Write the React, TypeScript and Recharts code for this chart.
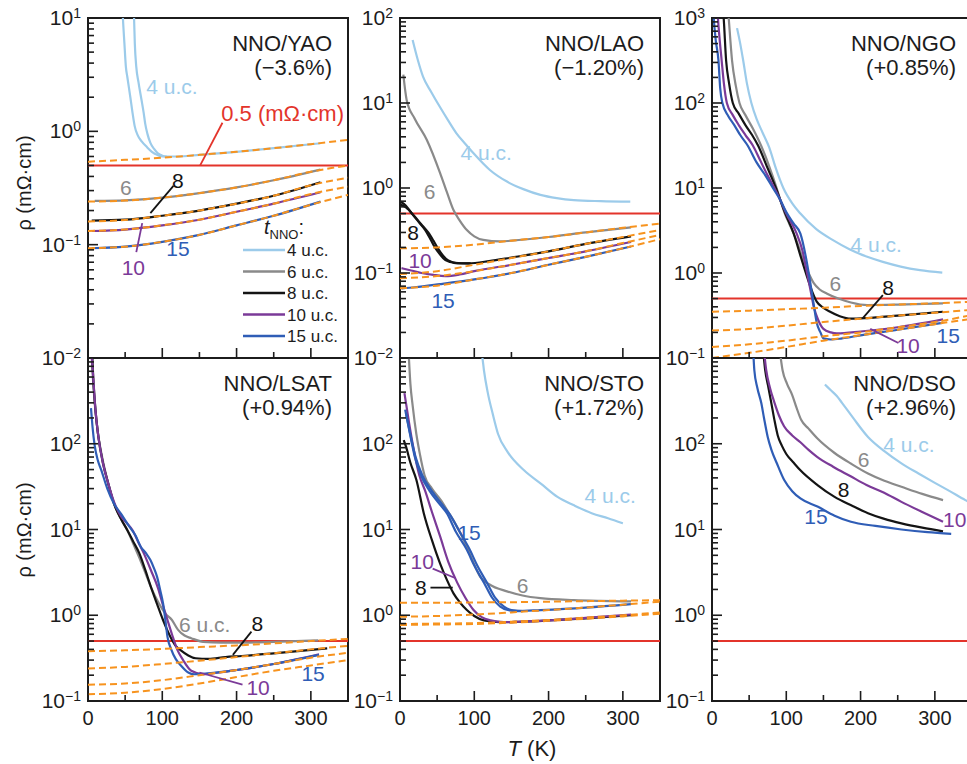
import React from "react";
import {
  LineChart,
  Line,
  XAxis,
  YAxis,
  ReferenceLine,
  ReferenceDot,
  ReferenceArea,
} from "recharts";

const FONT = "'Liberation Sans', Arial, Helvetica, sans-serif";
const INK = "#1c1c1c";

const C4 = "#9ccbea";
const C6 = "#8a8a8a";
const C8 = "#141414";
const C10 = "#7b3a98";
const C15 = "#2f5db6";
const FIT = "#f7931e";
const RED = "#e3342b";

type P = [number, number];

// axes
const T_DOMAIN: [number, number] = [0, 350];
const X_TICKS = [0, 50, 100, 150, 200, 250, 300];
const X_LABELS = [0, 100, 200, 300];
const MINOR = [2, 3, 4, 5, 6, 7, 8, 9];
const YAO_DECADES = [0.01, 0.1, 1, 10];
const LAO_DECADES = [0.01, 0.1, 1, 10, 100];
const NGO_DECADES = [0.1, 1, 10, 100, 1000];
const LOWER_DECADES = [0.1, 1, 10, 100, 1000];
const RHO_CRIT = 0.5;

// T grid for the dashed fits
const FIT_T = [0, 50, 100, 150, 200, 250, 300, 350];

// ---- NNO/YAO ----
const YAO_4A: P[] = [[46, 14], [47, 10], [49, 6], [51, 3.7], [53, 3.0], [57, 2.0], [60, 1.45], [63, 1.1], [67, 0.92], [72, 0.82], [79, 0.73], [86, 0.66], [93, 0.62], [100, 0.6], [120, 0.6], [150, 0.62], [200, 0.66], [250, 0.71], [313, 0.785]];
const YAO_4B: P[] = [[61, 14], [62, 10], [63, 6], [65, 3.7], [68, 2.7], [72, 1.9], [75, 1.45], [77, 1.17], [80, 0.95], [84, 0.79], [89, 0.7], [94, 0.64], [100, 0.61], [106, 0.6]];
const YAO_6: P[] = [[9, 0.243], [50, 0.246], [100, 0.26], [150, 0.285], [200, 0.32], [250, 0.37], [313, 0.46]];
const YAO_8: P[] = [[5, 0.163], [50, 0.166], [100, 0.18], [150, 0.2], [200, 0.23], [250, 0.27], [313, 0.355]];
const YAO_10: P[] = [[5, 0.132], [50, 0.136], [100, 0.148], [150, 0.166], [200, 0.195], [250, 0.23], [313, 0.29]];
const YAO_15: P[] = [[5, 0.093], [50, 0.096], [100, 0.106], [150, 0.122], [200, 0.148], [250, 0.18], [313, 0.24]];
const YAO_F4 = [0.54, 0.56, 0.585, 0.62, 0.66, 0.71, 0.77, 0.84];
const YAO_F6 = [0.24, 0.245, 0.26, 0.285, 0.32, 0.37, 0.44, 0.5];
const YAO_F8 = [0.16, 0.165, 0.18, 0.2, 0.23, 0.27, 0.335, 0.39];
const YAO_F10 = [0.132, 0.136, 0.148, 0.166, 0.195, 0.23, 0.28, 0.325];
const YAO_F15 = [0.093, 0.096, 0.106, 0.122, 0.148, 0.18, 0.225, 0.275];

// ---- NNO/LAO ----
const LAO_4: P[] = [[17, 55], [24, 32], [31, 20.4], [42, 13.5], [54, 8.9], [65, 6.2], [76, 4.4], [88, 3.3], [99, 2.56], [121, 1.63], [144, 1.19], [166, 0.97], [189, 0.83], [211, 0.76], [234, 0.72], [270, 0.7], [310, 0.69]];
const LAO_6: P[] = [[4.5, 21.5], [9, 10.8], [20, 6.5], [36, 3.7], [54, 1.5], [63, 0.9], [72, 0.55], [80, 0.42], [90, 0.32], [100, 0.27], [112, 0.245], [135, 0.235], [150, 0.24], [200, 0.265], [250, 0.3], [311, 0.345]];
const LAO_8A: P[] = [[1, 0.69], [8, 0.62], [16, 0.5], [25, 0.4], [34, 0.32], [41, 0.25], [47, 0.2], [54, 0.165], [61, 0.142], [74, 0.132], [92, 0.13], [120, 0.138], [150, 0.152], [200, 0.18], [250, 0.22], [311, 0.27]];
const LAO_8B: P[] = [[1, 0.64], [8, 0.59], [18, 0.48], [28, 0.38], [38, 0.3], [45, 0.24], [51, 0.195], [58, 0.16], [65, 0.14], [78, 0.13], [95, 0.13]];
const LAO_10: P[] = [[2, 0.114], [15, 0.107], [29, 0.1], [45, 0.095], [61, 0.092], [80, 0.096], [100, 0.105], [150, 0.125], [200, 0.15], [250, 0.18], [311, 0.232]];
const LAO_15: P[] = [[2, 0.066], [20, 0.068], [54, 0.074], [100, 0.084], [150, 0.1], [200, 0.125], [250, 0.155], [311, 0.205]];
const LAO_F6 = [0.195, 0.2, 0.215, 0.24, 0.265, 0.3, 0.34, 0.38];
const LAO_F8 = [0.097, 0.105, 0.125, 0.15, 0.18, 0.22, 0.265, 0.32];
const LAO_F10 = [0.087, 0.092, 0.105, 0.125, 0.15, 0.18, 0.225, 0.28];
const LAO_F15 = [0.066, 0.071, 0.084, 0.1, 0.125, 0.155, 0.195, 0.25];

// ---- NNO/NGO ----
const NGO_4: P[] = [[33.7, 760], [38, 500], [42, 316], [47, 170], [53, 100], [60, 65], [68, 45], [77, 30], [86, 17], [96, 10], [108, 6.6], [119, 5], [140, 3.3], [164, 2.4], [185, 1.9], [209, 1.55], [230, 1.35], [254, 1.19], [280, 1.08], [310, 1.01]];
const NGO_6: P[] = [[21, 1500], [22.5, 1000], [27, 316], [32, 160], [37, 100], [45, 72], [55, 50], [66, 31.6], [77, 18], [87, 10], [92, 7.2], [98, 5], [104, 3.8], [110, 2.9], [117, 2], [123, 1.4], [130, 1.0], [137, 0.76], [145, 0.64], [155, 0.57], [170, 0.5], [187, 0.45], [209, 0.42], [250, 0.425], [311, 0.44]];
const NGO_8: P[] = [[14, 1500], [15.7, 1000], [19, 316], [23, 170], [28, 100], [36, 75], [45, 55], [54, 42], [62, 31.6], [75, 17], [86, 10], [92, 7.2], [98, 5.2], [110, 2.9], [120, 1.5], [128, 0.9], [135, 0.6], [141, 0.46], [150, 0.39], [159, 0.35], [172, 0.31], [187, 0.29], [209, 0.295], [250, 0.315], [311, 0.35]];
const NGO_10: P[] = [[7, 1500], [8, 1000], [10, 600], [13, 316], [16, 170], [20, 100], [28, 72], [36, 55], [45, 42], [55, 31.6], [65, 21], [75, 14], [84, 10], [92, 7.2], [100, 5], [114, 2.9], [122, 1.8], [128, 1.0], [133, 0.6], [137, 0.4], [143, 0.28], [150, 0.22], [160, 0.2], [168, 0.195], [200, 0.205], [250, 0.23], [311, 0.285]];
const NGO_15: P[] = [[1, 1500], [2.3, 1000], [5, 550], [8.7, 316], [11, 150], [14, 100], [22, 70], [30, 55], [38, 42], [48, 31.6], [60, 20], [72, 14], [82, 10], [92, 7.2], [100, 5.2], [110, 3.8], [119, 2.9], [126, 1.6], [132, 0.8], [137, 0.42], [141, 0.26], [146, 0.2], [150, 0.17], [160, 0.165], [175, 0.17], [200, 0.185], [250, 0.215], [311, 0.26]];
const NGO_F6 = [0.35, 0.36, 0.375, 0.39, 0.41, 0.425, 0.44, 0.46];
const NGO_F8 = [0.21, 0.22, 0.24, 0.265, 0.29, 0.315, 0.34, 0.37];
const NGO_F10 = [0.135, 0.145, 0.16, 0.18, 0.2, 0.23, 0.265, 0.32];
const NGO_F15 = [0.1, 0.115, 0.135, 0.16, 0.185, 0.215, 0.25, 0.29];

// ---- NNO/LSAT ----
const LSAT_6: P[] = [[4, 1500], [6, 700], [9, 300], [13, 140], [19, 70], [27, 35], [35, 20], [45, 13], [53, 9.8], [62, 6.5], [70, 4.5], [78, 3.0], [85, 2.1], [95, 1.4], [104, 1.05], [113, 0.88], [121, 0.68], [130, 0.58], [139, 0.54], [155, 0.49], [180, 0.48], [210, 0.48], [250, 0.49], [310, 0.51]];
const LSAT_8: P[] = [[5, 1500], [7, 600], [10, 250], [14, 120], [20, 60], [27, 35], [35, 20], [45, 13], [53, 9.8], [61, 7.2], [69, 5.3], [77, 3.4], [85, 2.1], [93, 1.35], [101, 0.88], [110, 0.58], [118, 0.44], [125, 0.39], [135, 0.34], [145, 0.315], [162, 0.31], [185, 0.325], [207, 0.335], [250, 0.36], [322, 0.41]];
const LSAT_10: P[] = [[4, 1500], [7, 600], [10, 250], [14, 120], [20, 60], [27, 35], [35, 21], [45, 14], [52, 12], [60, 9.8], [68, 7], [75, 5.3], [85, 3.3], [94, 2.1], [101, 1.3], [107, 0.88], [113, 0.6], [120, 0.4], [128, 0.3], [139, 0.225], [155, 0.205], [176, 0.215], [200, 0.23], [250, 0.27], [311, 0.35]];
const LSAT_15: P[] = [[4, 260], [6, 160], [9, 95], [13, 65], [18, 49], [26, 30], [35, 20], [45, 15], [55, 11], [64, 8.5], [71, 6.3], [78, 5.3], [84, 4.4], [89, 3.5], [93, 2.8], [97, 2.0], [101, 1.38], [104, 0.9], [107, 0.56], [112, 0.4], [118, 0.31], [125, 0.26], [135, 0.215], [143, 0.205], [162, 0.21], [200, 0.23], [250, 0.27], [311, 0.345]];
const LSAT_F6 = [0.38, 0.39, 0.405, 0.425, 0.445, 0.47, 0.5, 0.53];
const LSAT_F8 = [0.24, 0.25, 0.27, 0.295, 0.325, 0.36, 0.4, 0.44];
const LSAT_F10 = [0.155, 0.16, 0.175, 0.2, 0.23, 0.27, 0.32, 0.365];
const LSAT_F15 = [0.12, 0.125, 0.138, 0.16, 0.19, 0.225, 0.26, 0.3];

// ---- NNO/STO ----
const STO_4: P[] = [[108, 1500], [111, 1000], [113, 720], [118, 400], [125, 220], [132, 130], [145, 80], [167, 49], [190, 34], [212, 24], [235, 19], [258, 15.5], [280, 13.5], [300, 11.8]];
const STO_6: P[] = [[11, 1500], [12, 1000], [14, 500], [17, 280], [22, 130], [27, 74], [33, 43], [43, 30], [55, 22], [65, 16], [75, 11.5], [86, 7.5], [97, 4.5], [108, 2.8], [120, 2.3], [144, 1.9], [165, 1.7], [189, 1.58], [234, 1.5], [270, 1.47], [311, 1.45]];
const STO_8: P[] = [[5, 110], [8, 93], [14, 60], [22, 38], [32, 15.5], [43, 7.5], [54, 4], [63, 2.6], [72, 1.8], [81, 1.4], [90, 1.15], [100, 0.98], [113, 0.87], [135, 0.83], [160, 0.84], [200, 0.87], [250, 0.92], [311, 1.0]];
const STO_10: P[] = [[6, 390], [8, 300], [12, 180], [18, 90], [26, 43], [34, 28], [43, 16], [54, 8.3], [65, 4.2], [77, 2.4], [88, 1.6], [99, 1.15], [110, 0.95], [122, 0.87], [140, 0.83], [160, 0.84], [200, 0.87], [250, 0.93], [311, 1.02]];
const STO_15A: P[] = [[7, 250], [12, 150], [20, 70], [28, 43], [40, 28], [55, 19], [63, 15.5], [75, 9.5], [90, 5.8], [100, 3.8], [113, 2.4], [124, 1.6], [135, 1.26], [145, 1.15], [158, 1.12], [189, 1.15], [250, 1.23], [311, 1.35]];
const STO_15B: P[] = [[8, 230], [13, 140], [21, 70], [30, 43], [43, 28], [58, 19], [67, 15], [80, 9.5], [94, 5.8], [104, 3.8], [117, 2.4], [128, 1.6], [140, 1.26], [150, 1.15], [165, 1.12]];
const STO_F6 = [1.4, 1.4, 1.41, 1.42, 1.44, 1.46, 1.48, 1.5];
const STO_F15 = [0.96, 0.98, 1.02, 1.08, 1.15, 1.23, 1.33, 1.44];
const STO_F8 = [0.77, 0.78, 0.79, 0.82, 0.86, 0.91, 0.97, 1.04];
const STO_F10 = [0.79, 0.8, 0.81, 0.84, 0.88, 0.94, 1.0, 1.08];

// ---- NNO/DSO ----
const DSO_4: P[] = [[152, 490], [160, 420], [168, 360], [175, 300], [190, 200], [210, 120], [232, 82], [255, 59], [278, 45], [300, 35], [320, 28], [341, 22], [355, 19]];
const DSO_6: P[] = [[90, 1500], [95, 720], [101, 500], [108, 370], [114, 260], [120, 190], [130, 150], [142, 115], [165, 78], [188, 58], [210, 45], [232, 37], [255, 31.5], [283, 26], [311, 22]];
const DSO_8: P[] = [[68, 1500], [71.6, 720], [76, 450], [80, 294], [84, 190], [88.5, 125], [94, 95], [100, 76], [110, 60], [119, 49], [142, 33], [165, 24], [188, 19], [210, 15.5], [232, 13.3], [255, 11.8], [283, 10.5], [311, 9.5]];
const DSO_10: P[] = [[69, 1500], [73, 720], [78, 450], [84.5, 294], [90, 215], [97, 160], [108, 125], [119, 104], [130, 85], [141, 71], [163, 54], [186, 42], [208, 33], [231, 27], [255, 21], [283, 16], [311, 12.3]];
const DSO_15: P[] = [[55, 1500], [57, 720], [61, 450], [66.5, 294], [70, 200], [75, 120], [80, 85], [87, 60], [97, 38], [108, 28], [119, 23], [142, 18.5], [165, 14.5], [187, 12.3], [220, 11], [255, 10], [290, 9.3], [322, 8.9]];

// layout
const PW = 260;
const YW = 80;
const MT = 16;
const MR = 6;
const XH = 44;

type Curve = { data: P[]; color: string };
type Tag = { t: number; r: number; text: string; color: string; size?: number; start?: boolean };
type Leader = { a: P; b: P; color: string };
type PanelDef = {
  key: string;
  left: number;
  top: number;
  h: number;
  decades: number[];
  title: string;
  strain: string;
  curves: Curve[];
  fits: number[][];
  tags: Tag[];
  leaders: Leader[];
  xLabels: boolean;
  hideTop: boolean;
};

const fitPts = (vals: number[]): P[] => FIT_T.map((t, i) => [t, vals[i]]);
const toRows = (d: P[]) => d.map(([t, r]) => ({ t, r }));
const logTicks = (dec: number[]) =>
  dec.flatMap((d, i) => (i < dec.length - 1 ? [d, ...MINOR.map((m) => d * m)] : [d]));

const PANELS: PanelDef[] = [
  {
    key: "yao", left: 88, top: 18, h: 340, decades: YAO_DECADES,
    title: "NNO/YAO", strain: "(\u22123.6%)",
    curves: [
      { data: YAO_4A, color: C4 }, { data: YAO_4B, color: C4 },
      { data: YAO_6, color: C6 }, { data: YAO_8, color: C8 },
      { data: YAO_10, color: C10 }, { data: YAO_15, color: C15 },
    ],
    fits: [YAO_F4, YAO_F6, YAO_F8, YAO_F10, YAO_F15],
    tags: [
      { t: 113, r: 2.46, text: "4 u.c.", color: C4 },
      { t: 51, r: 0.32, text: "6", color: C6 },
      { t: 121, r: 0.37, text: "8", color: C8 },
      { t: 61, r: 0.063, text: "10", color: C10 },
      { t: 121, r: 0.093, text: "15", color: C15 },
      { t: 262, r: 1.44, text: "0.5 (m\u03a9\u00b7cm)", color: RED, size: 22 },
    ],
    leaders: [
      { a: [84, 0.19], b: [115, 0.33], color: C8 },
      { a: [65, 0.086], b: [73, 0.155], color: C10 },
      { a: [151, 0.5], b: [181, 1.19], color: RED },
    ],
    xLabels: false, hideTop: false,
  },
  {
    key: "lao", left: 400, top: 18, h: 340, decades: LAO_DECADES,
    title: "NNO/LAO", strain: "(\u22121.20%)",
    curves: [
      { data: LAO_4, color: C4 }, { data: LAO_6, color: C6 },
      { data: LAO_8A, color: C8 }, { data: LAO_8B, color: C8 },
      { data: LAO_10, color: C10 }, { data: LAO_15, color: C15 },
    ],
    fits: [LAO_F6, LAO_F8, LAO_F10, LAO_F15],
    tags: [
      { t: 116, r: 2.6, text: "4 u.c.", color: C4 },
      { t: 40, r: 0.9, text: "6", color: C6 },
      { t: 17.5, r: 0.3, text: "8", color: C8 },
      { t: 27, r: 0.14, text: "10", color: C10 },
      { t: 58, r: 0.048, text: "15", color: C15 },
    ],
    leaders: [],
    xLabels: false, hideTop: false,
  },
  {
    key: "ngo", left: 712, top: 18, h: 340, decades: NGO_DECADES,
    title: "NNO/NGO", strain: "(+0.85%)",
    curves: [
      { data: NGO_4, color: C4 }, { data: NGO_6, color: C6 },
      { data: NGO_8, color: C8 }, { data: NGO_10, color: C10 },
      { data: NGO_15, color: C15 },
    ],
    fits: [NGO_F6, NGO_F8, NGO_F10, NGO_F15],
    tags: [
      { t: 221, r: 2.14, text: "4 u.c.", color: C4 },
      { t: 166, r: 0.76, text: "6", color: C6 },
      { t: 237, r: 0.68, text: "8", color: C8 },
      { t: 264, r: 0.14, text: "10", color: C10 },
      { t: 318, r: 0.186, text: "15", color: C15 },
    ],
    leaders: [
      { a: [203, 0.295], b: [230, 0.55], color: C8 },
      { a: [213, 0.22], b: [251, 0.15], color: C10 },
    ],
    xLabels: false, hideTop: false,
  },
  {
    key: "lsat", left: 88, top: 358, h: 343, decades: LOWER_DECADES,
    title: "NNO/LSAT", strain: "(+0.94%)",
    curves: [
      { data: LSAT_6, color: C6 }, { data: LSAT_8, color: C8 },
      { data: LSAT_10, color: C10 }, { data: LSAT_15, color: C15 },
    ],
    fits: [LSAT_F6, LSAT_F8, LSAT_F10, LSAT_F15],
    tags: [
      { t: 157, r: 0.77, text: "6 u.c.", color: C6 },
      { t: 228, r: 0.81, text: "8", color: C8 },
      { t: 229, r: 0.145, text: "10", color: C10 },
      { t: 303, r: 0.21, text: "15", color: C15 },
    ],
    leaders: [
      { a: [195, 0.345], b: [220, 0.645], color: C8 },
      { a: [150, 0.215], b: [208, 0.155], color: C10 },
    ],
    xLabels: true, hideTop: true,
  },
  {
    key: "sto", left: 400, top: 358, h: 343, decades: LOWER_DECADES,
    title: "NNO/STO", strain: "(+1.72%)",
    curves: [
      { data: STO_4, color: C4 }, { data: STO_6, color: C6 },
      { data: STO_8, color: C8 }, { data: STO_10, color: C10 },
      { data: STO_15A, color: C15 }, { data: STO_15B, color: C15 },
    ],
    fits: [STO_F6, STO_F15, STO_F8, STO_F10],
    tags: [
      { t: 283, r: 25, text: "4 u.c.", color: C4 },
      { t: 93, r: 9.1, text: "15", color: C15 },
      { t: 165, r: 2.25, text: "6", color: C6 },
      { t: 30, r: 4.2, text: "10", color: C10 },
      { t: 28, r: 2.1, text: "8", color: C8 },
    ],
    leaders: [
      { a: [44, 3.5], b: [75, 2.7], color: C10 },
      { a: [41, 2.1], b: [71, 2.1], color: C8 },
    ],
    xLabels: true, hideTop: true,
  },
  {
    key: "dso", left: 712, top: 358, h: 343, decades: LOWER_DECADES,
    title: "NNO/DSO", strain: "(+2.96%)",
    curves: [
      { data: DSO_4, color: C4 }, { data: DSO_6, color: C6 },
      { data: DSO_8, color: C8 }, { data: DSO_10, color: C10 },
      { data: DSO_15, color: C15 },
    ],
    fits: [],
    tags: [
      { t: 265, r: 97, text: "4 u.c.", color: C4 },
      { t: 204, r: 65, text: "6", color: C6 },
      { t: 177, r: 29, text: "8", color: C8 },
      { t: 140, r: 14, text: "15", color: C15 },
      { t: 311, r: 12.9, text: "10", color: C10, start: true },
    ],
    leaders: [],
    xLabels: true, hideTop: true,
  },
];

const LEGEND = [
  { text: "4 u.c.", color: C4 },
  { text: "6 u.c.", color: C6 },
  { text: "8 u.c.", color: C8 },
  { text: "10 u.c.", color: C10 },
  { text: "15 u.c.", color: C15 },
];

function YTick(props: any) {
  const { x, y, payload, decades, hideTop } = props;
  const v = payload.value as number;
  const isMajor = decades.some((d: number) => Math.abs(d - v) / d < 1e-6);
  const topV = decades[decades.length - 1];
  const exp = Math.round(Math.log10(v));
  const label = isMajor && !(hideTop && Math.abs(v - topV) / topV < 1e-6);
  return (
    <g>
      <line x1={x} x2={x + (isMajor ? 10 : 6)} y1={y} y2={y} stroke={INK} strokeWidth={1.6} />
      {label && (
        <text x={x - 7} y={y + 7} textAnchor="end" fontFamily={FONT} fontSize={21} fill={INK}>
          10
          <tspan dy={-7} fontSize={14}>
            {exp < 0 ? `\u2212${-exp}` : `${exp}`}
          </tspan>
        </text>
      )}
    </g>
  );
}

function XTick(props: any) {
  const { x, y, payload, showLabel } = props;
  const v = payload.value as number;
  const major = X_LABELS.includes(v);
  return (
    <g>
      <line x1={x} x2={x} y1={y} y2={y - (major ? 10 : 6)} stroke={INK} strokeWidth={1.6} />
      {showLabel && major && (
        <text x={x} y={y + 24} textAnchor="middle" fontFamily={FONT} fontSize={20} fill={INK}>
          {v}
        </text>
      )}
    </g>
  );
}

function Panel({ def }: { def: PanelDef }) {
  const yDomain: [number, number] = [def.decades[0], def.decades[def.decades.length - 1]];
  const yTicks = logTicks(def.decades);
  return (
    <div style={{ position: "absolute", left: def.left - YW, top: def.top - MT }}>
      <LineChart
        width={YW + PW + MR}
        height={MT + def.h + XH}
        margin={{ top: MT, right: MR, bottom: 0, left: 0 }}
      >
        <XAxis
          type="number"
          dataKey="t"
          domain={T_DOMAIN}
          allowDataOverflow
          ticks={X_TICKS}
          interval={0}
          height={XH}
          tickSize={0}
          tickMargin={0}
          axisLine={false}
          tickLine={false}
          tick={(p: any) => <XTick {...p} showLabel={def.xLabels} />}
        />
        <YAxis
          type="number"
          scale="log"
          domain={yDomain}
          allowDataOverflow
          ticks={yTicks}
          interval={0}
          width={YW}
          tickSize={0}
          tickMargin={0}
          axisLine={false}
          tickLine={false}
          tick={(p: any) => <YTick {...p} decades={def.decades} hideTop={def.hideTop} />}
        />
        <ReferenceLine y={RHO_CRIT} stroke={RED} strokeWidth={2} />
        {def.curves.map((c, i) => (
          <Line
            key={`c${i}`}
            data={toRows(c.data)}
            dataKey="r"
            type="monotone"
            stroke={c.color}
            strokeWidth={2.2}
            dot={false}
            activeDot={false}
            isAnimationActive={false}
          />
        ))}
        {def.fits.map((f, i) => (
          <Line
            key={`f${i}`}
            data={toRows(fitPts(f))}
            dataKey="r"
            type="monotone"
            stroke={FIT}
            strokeWidth={2}
            strokeDasharray="7 4"
            dot={false}
            activeDot={false}
            isAnimationActive={false}
          />
        ))}
        {def.leaders.map((l, i) => (
          <ReferenceLine
            key={`l${i}`}
            segment={[{ x: l.a[0], y: l.a[1] }, { x: l.b[0], y: l.b[1] }]}
            stroke={l.color}
            strokeWidth={1.8}
          />
        ))}
        {def.tags.map((g, i) => (
          <ReferenceDot
            key={`g${i}`}
            x={g.t}
            y={g.r}
            r={0}
            fill="none"
            stroke="none"
            label={{
              value: g.text,
              position: g.start ? "right" : "center",
              offset: 0,
              fill: g.color,
              fontSize: g.size ?? 21,
              fontFamily: FONT,
            }}
          />
        ))}
        <ReferenceArea
          x1={T_DOMAIN[0]}
          x2={T_DOMAIN[1]}
          y1={yDomain[0]}
          y2={yDomain[1]}
          fill="none"
          fillOpacity={0}
          stroke={INK}
          strokeWidth={2}
          ifOverflow="visible"
        />
      </LineChart>
    </div>
  );
}

export default function App() {
  return (
    <div
      style={{
        position: "absolute",
        left: 0,
        top: 0,
        width: 967,
        height: 764,
        overflow: "hidden",
        background: "#ffffff",
        fontFamily: FONT,
      }}
    >
      {PANELS.map((p) => (
        <Panel key={p.key} def={p} />
      ))}
      <svg
        width={967}
        height={764}
        style={{ position: "absolute", left: 0, top: 0, pointerEvents: "none" }}
      >
        {PANELS.map((p) => (
          <g key={p.key} fontFamily={FONT} fontSize={22} fill={INK}>
            <text x={p.left + PW - 16} y={p.top + 33} textAnchor="end">
              {p.title}
            </text>
            <text x={p.left + PW - 16} y={p.top + 57} textAnchor="end">
              {p.strain}
            </text>
          </g>
        ))}
        <g fontFamily={FONT} fill={INK}>
          <text x={264} y={234} fontSize={20}>
            <tspan fontStyle="italic">t</tspan>
            <tspan fontSize={13} dy={5}>NNO</tspan>
            <tspan dy={-5}>:</tspan>
          </text>
          {LEGEND.map((e, i) => (
            <g key={e.text}>
              <line x1={243} x2={285} y1={250 + i * 21.5} y2={250 + i * 21.5} stroke={e.color} strokeWidth={2.6} />
              <text x={287} y={250 + i * 21.5 + 6} fontSize={17}>
                {e.text}
              </text>
            </g>
          ))}
          {[183, 530].map((cy) => (
            <text
              key={cy}
              transform={`translate(24,${cy}) rotate(-90)`}
              textAnchor="middle"
              dominantBaseline="central"
              fontSize={20}
            >
              {"\u03c1 (m\u03a9\u00b7cm)"}
            </text>
          ))}
          <text x={532} y={756} textAnchor="middle" fontSize={22}>
            <tspan fontStyle="italic">T</tspan> (K)
          </text>
        </g>
      </svg>
    </div>
  );
}
